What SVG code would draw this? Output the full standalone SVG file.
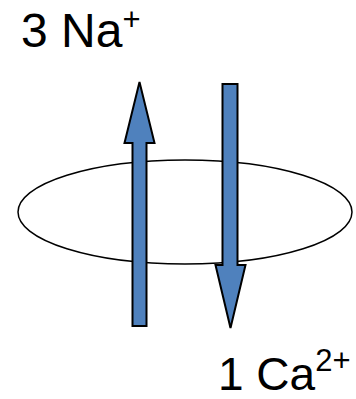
<svg xmlns="http://www.w3.org/2000/svg" width="356" height="399" viewBox="0 0 356 399">
<style>
.arrow{fill:#4F81BD;stroke:#000;stroke-width:2;stroke-linejoin:miter}
.lbl{font-family:"Liberation Sans",Arial,sans-serif;fill:#000}
.sup{font-size:31px}
</style>
<rect width="356" height="399" fill="#fff"/>
<g id="membrane">
<ellipse cx="185" cy="212" rx="167" ry="52" fill="none" stroke="#000" stroke-width="1.5"/>
</g>
<g id="connectors">
<polygon id="na-arrow" class="arrow" points="139.5,82 154.5,143 146.5,143 146.5,326 132.5,326 132.5,143 124.5,143"/>
<polygon id="ca-arrow" class="arrow" points="222.5,84 237.5,84 237.5,265 245.5,265 230.5,328 215.5,265 222.5,265"/>
</g>
<g id="na-label">
<text class="lbl" x="21" y="47" font-size="48">3 Na<tspan class="sup" dy="-17">+</tspan></text>
</g>
<g id="ca-label">
<text class="lbl" x="218" y="390" font-size="46">1 Ca<tspan class="sup" dy="-19">2+</tspan></text>
</g>
</svg>
